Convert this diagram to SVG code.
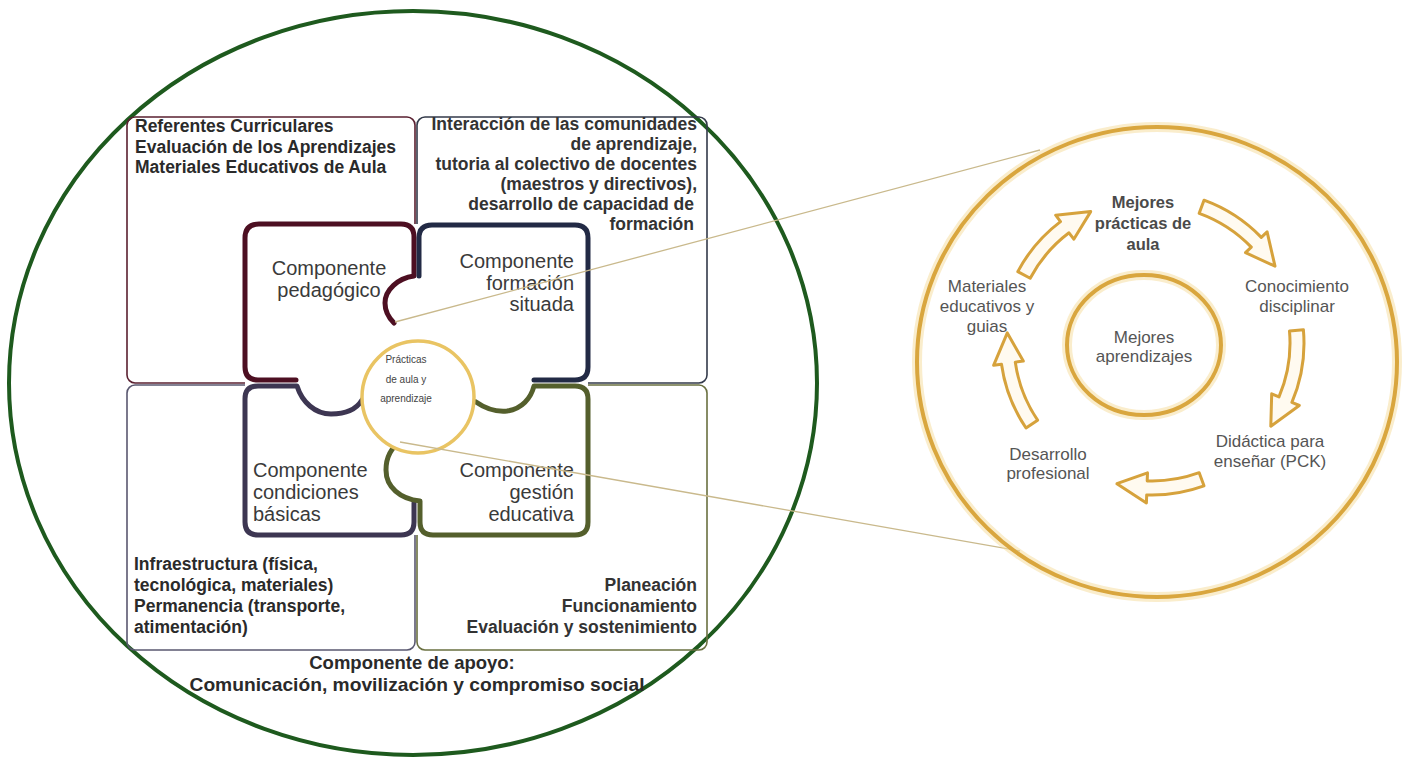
<svg xmlns="http://www.w3.org/2000/svg" width="1402" height="759" viewBox="0 0 1402 759">
<style>
.qt{font-family:"Liberation Sans",Arial,sans-serif;font-weight:bold;font-size:17.5px;fill:#2a2a2a}
.qr{font-family:"Liberation Sans",Arial,sans-serif;font-weight:bold;font-size:17.5px;fill:#333;text-anchor:end}
.ap{font-family:"Liberation Sans",Arial,sans-serif;font-weight:bold;font-size:18.5px;fill:#2a2a2a;text-anchor:middle}
.pt{font-family:"Liberation Sans",Arial,sans-serif;font-size:20px;fill:#3a3a3a}
.ct{font-family:"Liberation Sans",Arial,sans-serif;font-size:10px;fill:#444;text-anchor:middle}
.rt{font-family:"Liberation Sans",Arial,sans-serif;font-size:17px;fill:#555;text-anchor:middle}
.rb{font-family:"Liberation Sans",Arial,sans-serif;font-size:16.5px;font-weight:bold;fill:#4a4a4a;text-anchor:middle}
.box{fill:none;stroke-width:1.6}
.piece{fill:none;stroke-width:5;stroke-linejoin:round;stroke-linecap:round}
.arrow{fill:#fffaf0;stroke:#d6a23c;stroke-width:3;stroke-linejoin:round}
.gold{fill:none;stroke:#d9a63e;stroke-width:4}
.glow{fill:none;stroke:#f5dc9a;stroke-width:10;opacity:.5}
.conn{stroke:#c9b98c;stroke-width:1.3;fill:none}
</style>
<rect width="1402" height="759" fill="#ffffff"/>

<g id="outer-green">
  <ellipse cx="413" cy="383" rx="404" ry="372" fill="none" stroke="#1e5a1e" stroke-width="4"/>
</g>

<g id="quadrant-tl">
  <rect class="box" x="127" y="117" width="288" height="266" rx="8" stroke="#5a2030"/>
  <text class="qt" x="135" y="132">Referentes Curriculares</text>
  <text class="qt" x="135" y="153">Evaluación de los Aprendizajes</text>
  <text class="qt" x="135" y="173">Materiales Educativos de Aula</text>
</g>
<g id="quadrant-tr">
  <rect class="box" x="417" y="117" width="290" height="266" rx="8" stroke="#333a4a"/>
  <text class="qr" x="697" y="130">Interacción de las comunidades</text>
  <text class="qr" x="697" y="150">de aprendizaje,</text>
  <text class="qr" x="697" y="170">tutoria al colectivo de docentes</text>
  <text class="qr" x="697" y="190">(maestros y directivos),</text>
  <text class="qr" x="694" y="210">desarrollo de capacidad de</text>
  <text class="qr" x="694" y="230">formación</text>
</g>
<g id="quadrant-bl">
  <rect class="box" x="127" y="385" width="288" height="265" rx="8" stroke="#5a5870"/>
  <text class="qt" x="134" y="570">Infraestructura (física,</text>
  <text class="qt" x="134" y="591">tecnológica, materiales)</text>
  <text class="qt" x="134" y="612">Permanencia (transporte,</text>
  <text class="qt" x="134" y="633">atimentación)</text>
</g>
<g id="quadrant-br">
  <rect class="box" x="417" y="385" width="290" height="265" rx="8" stroke="#6a7040"/>
  <text class="qr" x="697" y="591">Planeación</text>
  <text class="qr" x="697" y="612">Funcionamiento</text>
  <text class="qr" x="697" y="633">Evaluación y sostenimiento</text>
</g>
<g id="apoyo">
  <text class="ap" x="412" y="669">Componente de apoyo:</text>
  <text class="ap" x="417" y="691" textLength="455" lengthAdjust="spacingAndGlyphs">Comunicación, movilización y compromiso social</text>
</g>

<rect x="245" y="224" width="343" height="311" fill="#ffffff"/>

<g id="piece-pedagogico">
  <path class="piece" stroke="#4d0f22" d="M296,380 H258 Q245,380 245,367 V238 Q245,224 259,224 H401 Q414,224 414,237 V276 C398,278 385,290 385,303 C385,311 388,317 394,323"/>
  <text class="pt" x="329" y="275" text-anchor="middle">Componente</text>
  <text class="pt" x="329" y="297" text-anchor="middle">pedagógico</text>
</g>
<g id="piece-formacion">
  <path class="piece" stroke="#222a45" d="M419,276 V238 Q419,225 432,225 H575 Q588,225 588,238 V367 Q588,380 575,380 H534"/>
  <text class="pt" x="574" y="268" text-anchor="end">Componente</text>
  <text class="pt" x="574" y="290" text-anchor="end">formación</text>
  <text class="pt" x="574" y="311" text-anchor="end">situada</text>
</g>
<g id="piece-condiciones">
  <path class="piece" stroke="#3d3652" d="M362,400 C356,410 344,414 331,414 C315,414 302,402 297,386 H258 Q245,386 245,399 V522 Q245,535 258,535 H401 Q414,535 414,522 V503"/>
  <text class="pt" x="253" y="477">Componente</text>
  <text class="pt" x="253" y="499">condiciones</text>
  <text class="pt" x="253" y="521">básicas</text>
</g>
<g id="piece-gestion">
  <path class="piece" stroke="#545f2c" d="M476,402 C486,409 496,412 507,411 C522,409 531,398 534,386 H575 Q588,386 588,399 V522 Q588,535 575,535 H433 Q420,535 420,522 V501 C400,499 386,487 386,470 C386,457 392,447 401,441"/>
  <text class="pt" x="574" y="477" text-anchor="end">Componente</text>
  <text class="pt" x="574" y="499" text-anchor="end">gestión</text>
  <text class="pt" x="574" y="521" text-anchor="end">educativa</text>
</g>
<g id="center-practicas">
  <circle cx="418" cy="397" r="56" fill="#ffffff" stroke="#e9c463" stroke-width="3.5"/>
  <text class="ct" x="406" y="363">Prácticas</text>
  <text class="ct" x="406" y="383">de aula y</text>
  <text class="ct" x="406" y="402">aprendizaje</text>
</g>

<g id="connectors">
  <line class="conn" x1="395" y1="322" x2="1040" y2="150"/>
  <line class="conn" x1="400" y1="442" x2="1020" y2="551"/>
</g>

<g id="zoom-circle">
  <ellipse class="glow" cx="1157" cy="362" rx="240" ry="235"/>
  <ellipse class="gold" cx="1157" cy="362" rx="240" ry="235" fill="#ffffff"/>
</g>
<g id="inner-circle">
  <ellipse class="glow" cx="1144" cy="345" rx="77" ry="70"/>
  <ellipse class="gold" cx="1144" cy="345" rx="77" ry="70"/>
  <text class="rt" x="1144" y="343">Mejores</text>
  <text class="rt" x="1144" y="362">aprendizajes</text>
</g>
<g id="arrows">
  <path class="arrow" d="M1017.8,271.6 A152,152 0 0,1 1060.5,221.6 L1055.7,215.2 L1090.7,211.6 L1073.8,239.2 L1069.0,232.8 A138,138 0 0,0 1030.2,278.2 Z"/>
  <path class="arrow" d="M1204.0,200.2 A152,152 0 0,1 1261.3,237.4 L1267.1,231.8 L1275.0,266.2 L1245.5,252.7 L1251.3,247.1 A138,138 0 0,0 1199.2,213.3 Z"/>
  <path class="arrow" d="M1303.4,329.7 A152,152 0 0,1 1291.9,402.4 L1299.3,405.5 L1270.8,426.2 L1271.7,393.8 L1279.0,396.9 A138,138 0 0,0 1289.5,331.0 Z"/>
  <path class="arrow" d="M1204.0,485.8 A152,152 0 0,1 1146.7,494.9 L1146.4,502.9 L1116.9,483.7 L1147.5,472.9 L1147.2,480.9 A138,138 0 0,0 1199.2,472.7 Z"/>
  <path class="arrow" d="M1026.0,428.0 A152,152 0 0,1 1001.5,364.2 L993.6,365.3 L1007.3,332.9 L1023.3,361.1 L1015.3,362.2 A138,138 0 0,0 1037.6,420.2 Z"/>
</g>
<g id="label-mejores-practicas">
  <text class="rb" x="1143" y="208">Mejores</text>
  <text class="rb" x="1143" y="229">prácticas de</text>
  <text class="rb" x="1143" y="250">aula</text>
</g>
<g id="label-materiales">
  <text class="rt" x="987" y="292">Materiales</text>
  <text class="rt" x="987" y="312">educativos y</text>
  <text class="rt" x="987" y="332">guias</text>
</g>
<g id="label-conocimiento">
  <text class="rt" x="1297" y="292">Conocimiento</text>
  <text class="rt" x="1297" y="312">disciplinar</text>
</g>
<g id="label-didactica">
  <text class="rt" x="1270" y="447">Didáctica para</text>
  <text class="rt" x="1270" y="467">enseñar (PCK)</text>
</g>
<g id="label-desarrollo">
  <text class="rt" x="1048" y="460">Desarrollo</text>
  <text class="rt" x="1048" y="479">profesional</text>
</g>
</svg>
